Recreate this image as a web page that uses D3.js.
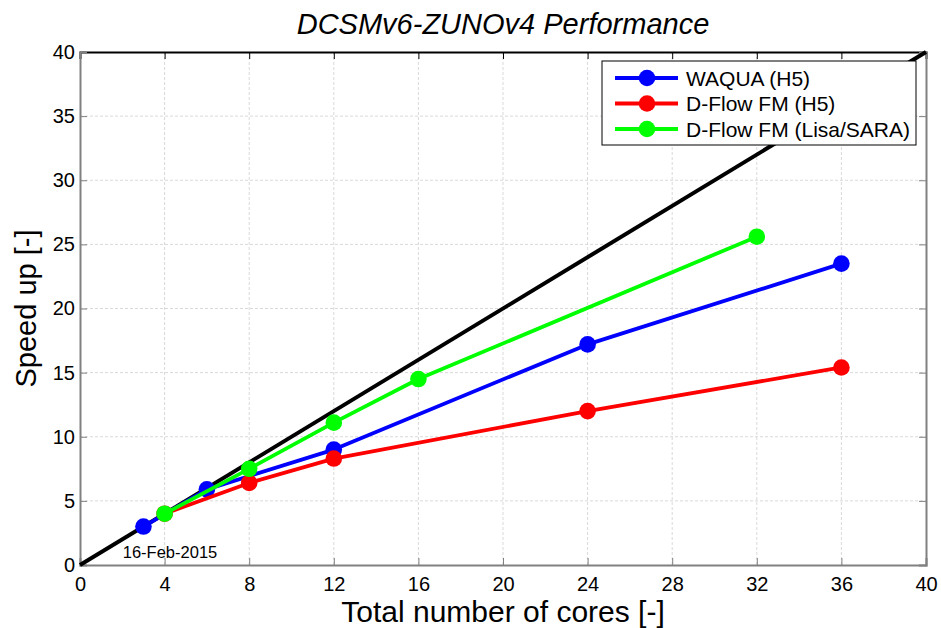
<!DOCTYPE html>
<html>
<head>
<meta charset="utf-8">
<script src="https://cdn.jsdelivr.net/npm/d3@7"></script>
<style>
  body { margin: 0; background: #fff; }
  svg { display: block; font-family: "Liberation Sans", Arial, sans-serif; }
</style>
</head>
<body>
<svg id="chart" width="941" height="628"></svg>
<script>
// Speed-up measurements per number of cores
const waquaCores = [3, 6, 12, 24, 36];
const waquaSpeedup = [3, 5.9, 9, 17.2, 23.5];
const dflowH5Cores = [4, 8, 12, 24, 36];
const dflowH5Speedup = [4, 6.4, 8.3, 12, 15.4];
const dflowLisaCores = [4, 8, 12, 16, 32];
const dflowLisaSpeedup = [4, 7.5, 11.1, 14.5, 25.6];
const idealCores = [0, 40];
const idealSpeedup = [0, 40];

const xTicks = [0, 4, 8, 12, 16, 20, 24, 28, 32, 36, 40];
const yTicks = [0, 5, 10, 15, 20, 25, 30, 35, 40];

const seriesNames = ["WAQUA (H5)", "D-Flow FM (H5)", "D-Flow FM (Lisa/SARA)"];
const seriesColors = ["#0000ff", "#ff0000", "#00ff00"];

const series = [
  { name: seriesNames[0], color: seriesColors[0], x: waquaCores, y: waquaSpeedup },
  { name: seriesNames[1], color: seriesColors[1], x: dflowH5Cores, y: dflowH5Speedup },
  { name: seriesNames[2], color: seriesColors[2], x: dflowLisaCores, y: dflowLisaSpeedup }
];

const svg = d3.select("#chart");
const L = 80, R = 926, T = 52, B = 565;

const x = d3.scaleLinear().domain([0, 40]).range([L, R]);
const y = d3.scaleLinear().domain([0, 40]).range([B, T]);

// grid
const grid = svg.append("g");
grid.selectAll("line.gx").data(xTicks.slice(1, -1)).join("line")
  .attr("x1", d => x(d)).attr("x2", d => x(d)).attr("y1", T).attr("y2", B)
  .attr("stroke", "#d9d9d9").attr("stroke-width", 1).attr("stroke-dasharray", "3,2");
grid.selectAll("line.gy").data(yTicks.slice(1, -1)).join("line")
  .attr("y1", d => y(d)).attr("y2", d => y(d)).attr("x1", L).attr("x2", R)
  .attr("stroke", "#d9d9d9").attr("stroke-width", 1).attr("stroke-dasharray", "3,2");

// axes
const axisColor = "#808080";
const xAxis = svg.append("g").attr("transform", `translate(0,${B})`)
  .call(d3.axisBottom(x).tickValues(xTicks).tickSize(-7).tickPadding(12).tickFormat(d3.format("d")));
const xAxisTop = svg.append("g").attr("transform", `translate(0,${T})`)
  .call(d3.axisTop(x).tickValues(xTicks).tickSize(-7).tickFormat(""));
const yAxis = svg.append("g").attr("transform", `translate(${L},0)`)
  .call(d3.axisLeft(y).tickValues(yTicks).tickSize(-7).tickPadding(5).tickFormat(d3.format("d")));
const yAxisRight = svg.append("g").attr("transform", `translate(${R},0)`)
  .call(d3.axisRight(y).tickValues(yTicks).tickSize(-7).tickFormat(""));

[xAxis, yAxis, yAxisRight].forEach(g => {
  g.selectAll("path").attr("stroke", axisColor).attr("stroke-width", 2);
  g.selectAll(".tick line").attr("stroke", axisColor).attr("stroke-width", 1);
});
xAxisTop.selectAll("path").attr("stroke", "#000").attr("stroke-width", 2);
xAxisTop.selectAll(".tick line").attr("stroke", "#000").attr("stroke-width", 1);
[xAxis, yAxis].forEach(g => {
  g.selectAll(".tick text").attr("fill", "#000").attr("font-size", 20)
    .attr("font-family", "Liberation Sans, Arial, sans-serif");
});
xAxis.selectAll(".tick text").attr("dy", "0.71em");

// ideal speed-up line
const lineGen = d3.line().x(d => x(d[0])).y(d => y(d[1]));
svg.append("path")
  .attr("d", lineGen(d3.zip(idealCores, idealSpeedup)))
  .attr("stroke", "#000").attr("stroke-width", 4).attr("fill", "none");

// series
series.forEach(s => {
  const pts = d3.zip(s.x, s.y);
  const g = svg.append("g");
  g.append("path").attr("d", lineGen(pts))
    .attr("stroke", s.color).attr("stroke-width", 3.8).attr("fill", "none")
    .attr("stroke-linejoin", "round");
  g.selectAll("circle").data(pts).join("circle")
    .attr("cx", d => x(d[0])).attr("cy", d => y(d[1])).attr("r", 8.3)
    .attr("fill", s.color);
});

// date stamp
svg.append("text").attr("x", 170).attr("y", 558).attr("text-anchor", "middle")
  .attr("font-size", 16.5).text("16-Feb-2015");

// title
svg.append("text").attr("x", 503).attr("y", 34).attr("text-anchor", "middle")
  .attr("font-size", 29).attr("font-style", "italic").text("DCSMv6-ZUNOv4 Performance");

// axis labels
svg.append("text").attr("x", 503).attr("y", 622).attr("text-anchor", "middle")
  .attr("font-size", 30).text("Total number of cores [-]");
svg.append("text").attr("transform", `translate(36,${(T + B) / 2}) rotate(-90)`)
  .attr("text-anchor", "middle").attr("font-size", 29).text("Speed up [-]");

// legend
const legend = svg.append("g");
legend.append("rect").attr("x", 602).attr("y", 61).attr("width", 314).attr("height", 84)
  .attr("fill", "#fff").attr("stroke", "#000").attr("stroke-width", 1);
series.forEach((s, i) => {
  const ly = 78 + i * 25.5;
  legend.append("line").attr("x1", 615).attr("x2", 678).attr("y1", ly).attr("y2", ly)
    .attr("stroke", s.color).attr("stroke-width", 3.8);
  legend.append("circle").attr("cx", 647).attr("cy", ly).attr("r", 8.3).attr("fill", s.color);
  legend.append("text").attr("x", 686).attr("y", ly + 7.5).attr("font-size", 21).text(s.name);
});
</script>
</body>
</html>
